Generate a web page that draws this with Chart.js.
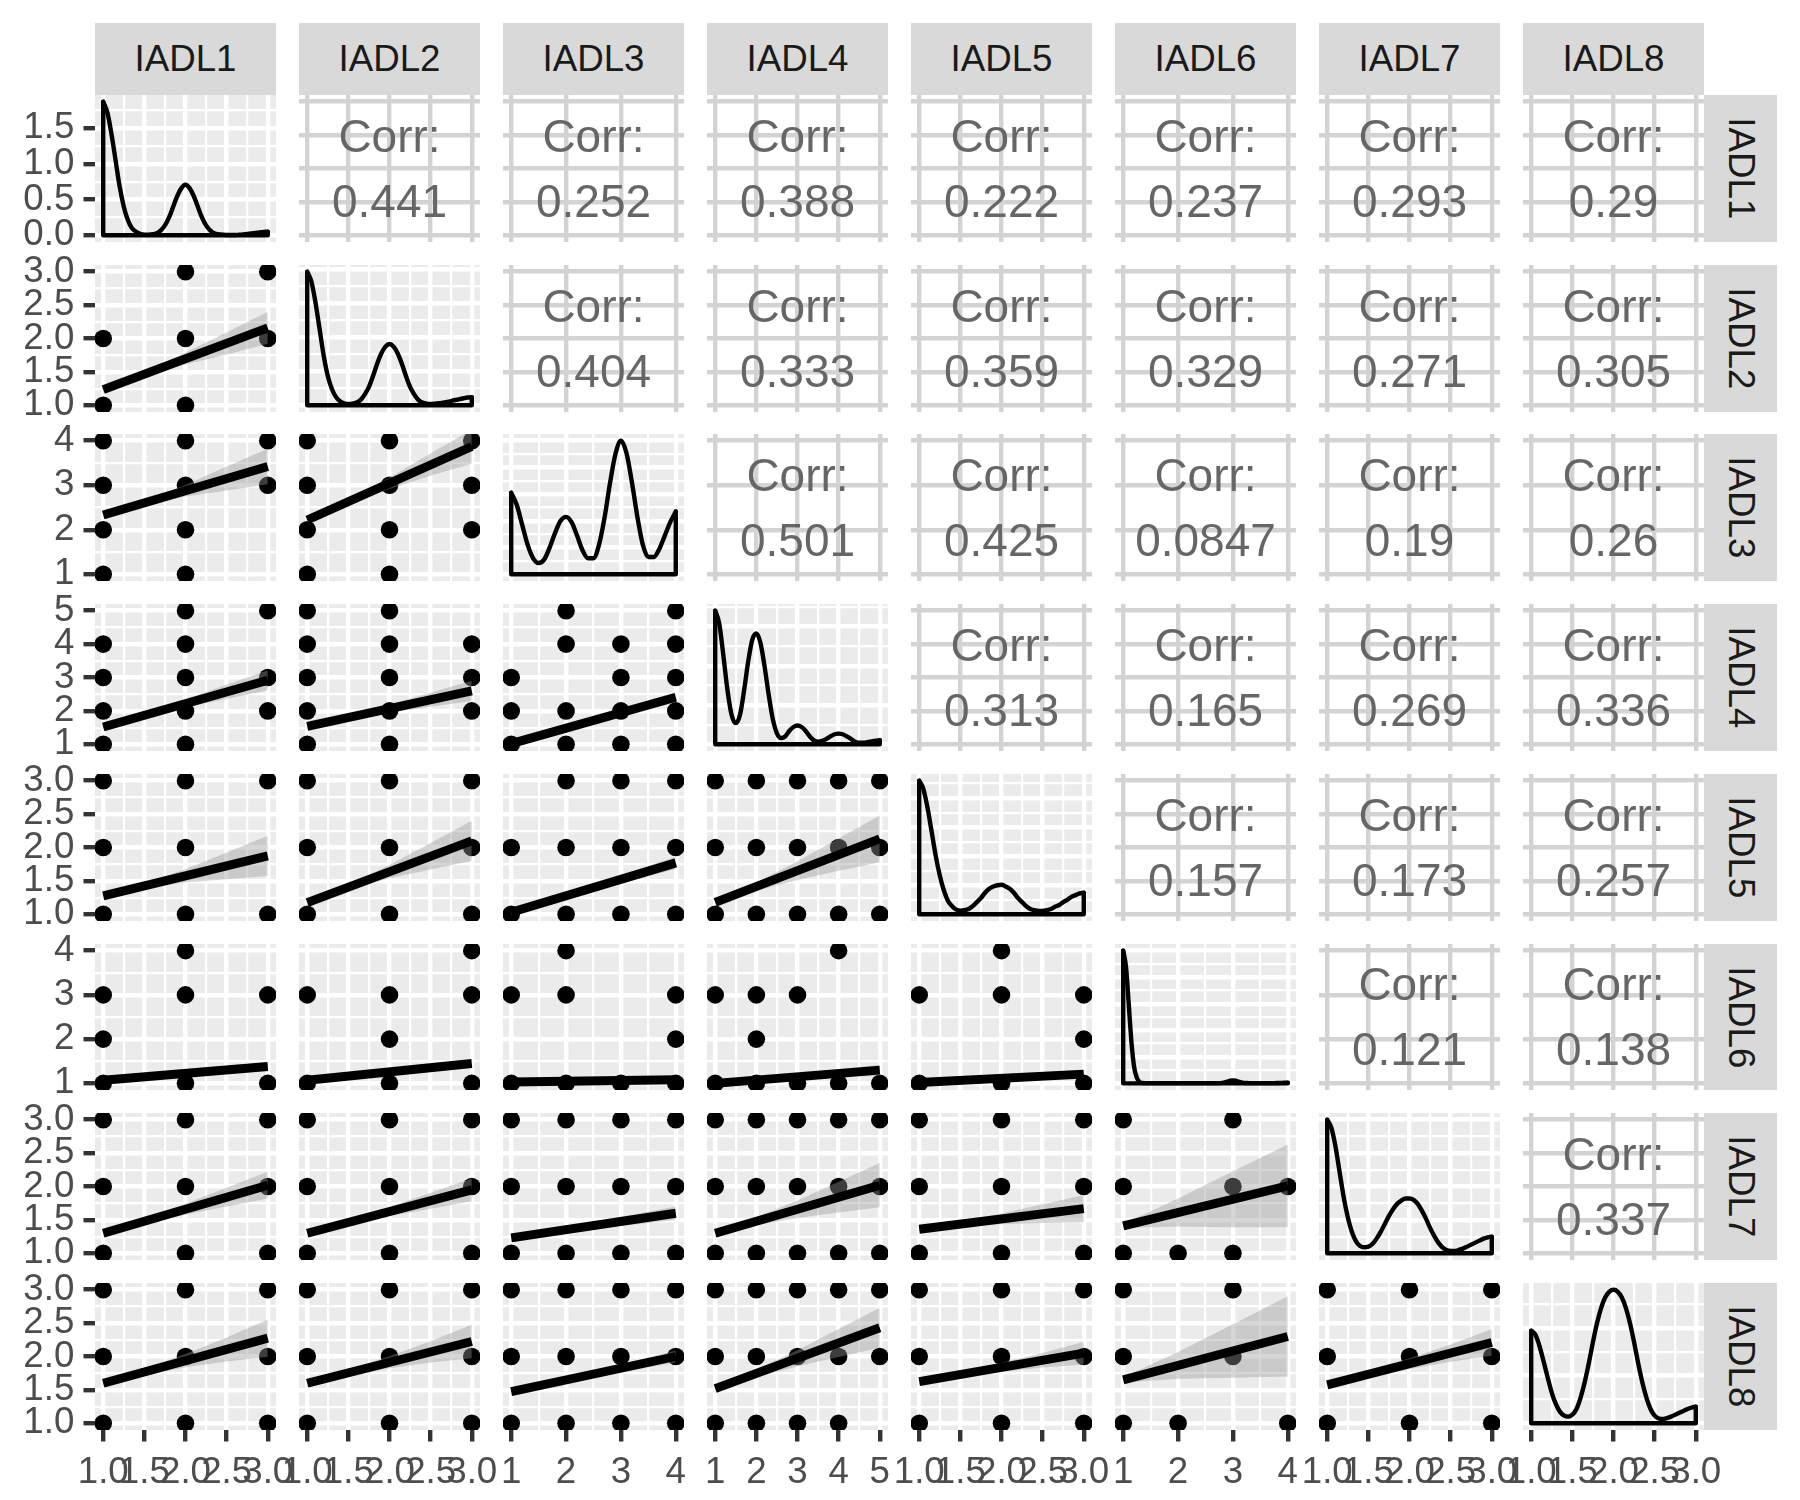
<!DOCTYPE html>
<html>
<head>
<meta charset="utf-8">
<script src="https://cdn.jsdelivr.net/npm/chart.js@4.4.0/dist/chart.umd.min.js"></script>
<style>
html,body{margin:0;padding:0;background:#ffffff;}
#root{position:relative;width:1800px;height:1500px;overflow:hidden;background:#ffffff;font-family:"Liberation Sans",Arial,Helvetica,sans-serif;}
#root canvas{position:absolute;}
.strip{position:absolute;background:#D9D9D9;color:#1A1A1A;font-size:36.7px;display:flex;align-items:center;justify-content:center;line-height:1;}
.strip.right span{display:block;transform:rotate(90deg);white-space:nowrap;}
.corr{position:absolute;display:flex;flex-direction:column;align-items:center;justify-content:center;color:#666666;font-size:46px;line-height:65px;z-index:2;}
.corr div{white-space:nowrap;}
</style>
</head>
<body>
<div id="root"></div>
<script>
// ---------------- data ----------------
const varNames = ["IADL1","IADL2","IADL3","IADL4","IADL5","IADL6","IADL7","IADL8"];
const varMin = [1,1,1,1,1,1,1,1];
const varMax = [3,3,4,5,3,4,3,3];

const ticks13 = [1,1.5,2,2.5,3];
const ticks13Labels = ["1.0","1.5","2.0","2.5","3.0"];
const ticks14 = [1,2,3,4];
const ticks14Labels = ["1","2","3","4"];
const ticks15 = [1,2,3,4,5];
const ticks15Labels = ["1","2","3","4","5"];
const densTicks = [0,0.5,1,1.5];
const densTickLabels = ["0.0","0.5","1.0","1.5"];

// density curves (evaluated from min to max every densStep)
const densStep = [0.05,0.05,0.1,0.1,0.05,0.05,0.05,0.05];
const dens1 = [1.87,1.72,1.42,1.05,0.68,0.40,0.21,0.10,0.05,0.02,0.01,0.01,0.015,0.03,0.07,0.14,0.25,0.40,0.55,0.66,0.71,0.66,0.55,0.40,0.25,0.14,0.07,0.03,0.015,0.01,0.005,0.005,0.005,0.008,0.012,0.018,0.025,0.033,0.04,0.047,0.05];
const dens2 = [1.96,1.82,1.51,1.12,0.73,0.43,0.24,0.12,0.06,0.03,0.02,0.024,0.04,0.08,0.16,0.27,0.43,0.61,0.76,0.86,0.90,0.86,0.76,0.61,0.43,0.27,0.16,0.08,0.04,0.024,0.02,0.024,0.03,0.04,0.05,0.063,0.078,0.092,0.104,0.114,0.118];
const dens3 = [0.61,0.52,0.37,0.22,0.12,0.085,0.11,0.20,0.31,0.40,0.43,0.39,0.29,0.18,0.12,0.12,0.22,0.42,0.68,0.90,1.00,0.91,0.69,0.43,0.22,0.13,0.13,0.19,0.29,0.39,0.47];
const dens4 = [1.70,1.53,1.12,0.68,0.37,0.27,0.37,0.68,1.05,1.33,1.41,1.29,0.99,0.63,0.32,0.14,0.08,0.10,0.17,0.22,0.24,0.22,0.17,0.10,0.05,0.034,0.043,0.068,0.10,0.128,0.136,0.128,0.10,0.068,0.034,0.02,0.02,0.027,0.037,0.046,0.051];
const dens5 = [2.30,2.16,1.84,1.43,1.01,0.67,0.41,0.23,0.14,0.08,0.064,0.07,0.09,0.14,0.21,0.28,0.37,0.44,0.48,0.50,0.51,0.48,0.44,0.37,0.28,0.21,0.14,0.09,0.07,0.058,0.058,0.07,0.09,0.13,0.16,0.21,0.25,0.30,0.33,0.36,0.37];
const dens6 = [5.0,4.4,3.0,1.55,0.6,0.2,0.05,0.015,
  0.01,0.01,0.01,0.01,0.01,0.01,0.01,0.01,0.01,0.01,
  0.01,0.01,0.01,0.01,0.01,0.01,0.01,0.01,0.01,0.01,
  0.01,0.01,0.01,0.01,0.01,0.01,0.01,0.01,
  0.02,0.04,0.07,0.10,0.11,0.10,0.07,0.04,0.02,0.012,
  0.01,0.01,0.01,0.01,0.01,0.01,0.01,0.01,0.01,0.01,
  0.012,0.016,0.02,0.024,0.026];
const dens7 = [2.00,1.88,1.60,1.22,0.84,0.54,0.32,0.18,0.11,0.09,0.10,0.14,0.22,0.32,0.44,0.56,0.66,0.74,0.79,0.82,0.82,0.80,0.74,0.64,0.52,0.38,0.26,0.16,0.09,0.05,0.036,0.036,0.05,0.07,0.10,0.13,0.16,0.19,0.22,0.24,0.25];
const dens8 = [0.97,0.93,0.81,0.65,0.48,0.32,0.20,0.12,0.08,0.07,0.09,0.15,0.27,0.43,0.63,0.85,1.05,1.21,1.32,1.38,1.40,1.38,1.32,1.21,1.05,0.85,0.63,0.43,0.27,0.15,0.08,0.05,0.045,0.055,0.07,0.09,0.11,0.13,0.15,0.165,0.175];

// correlations (upper triangle, row by row)
const corrRow1 = ["0.441","0.252","0.388","0.222","0.237","0.293","0.29"];
const corrRow2 = ["0.404","0.333","0.359","0.329","0.271","0.305"];
const corrRow3 = ["0.501","0.425","0.0847","0.19","0.26"];
const corrRow4 = ["0.313","0.165","0.269","0.336"];
const corrRow5 = ["0.157","0.173","0.257"];
const corrRow6 = ["0.121","0.138"];
const corrRow7 = ["0.337"];

// scatter points, lm fit (y at x-min, y at x-max) and confidence band (lo/hi at bandX)
const bandX3 = [1,1.5,2,2.5,3];
const bandX4 = [1,2,3,4];
const bandX5 = [1,2,3,4,5];

const pts_2_1 = [[1,1],[1,2],[2,1],[2,2],[2,3],[3,2],[3,3]];
const fit_2_1 = [1.235,2.16];
const lo_2_1 = [1.19,1.43,1.61,1.76,1.92];
const hi_2_1 = [1.28,1.50,1.79,2.09,2.40];

const pts_3_1 = [[1,1],[1,2],[1,3],[1,4],[2,1],[2,2],[2,3],[2,4],[3,3],[3,4]];
const fit_3_1 = [2.33,3.42];
const lo_3_1 = [2.27,2.55,2.745,2.88,3.02];
const hi_3_1 = [2.39,2.65,3.005,3.42,3.82];

const pts_3_2 = [[1,1],[1,2],[1,3],[1,4],[2,1],[2,2],[2,3],[2,4],[3,2],[3,3],[3,4]];
const fit_3_2 = [2.22,3.87];
const lo_3_2 = [2.15,2.57,2.915,3.21,3.49];
const hi_3_2 = [2.29,2.69,3.175,3.71,4.25];

const pts_4_1 = [[1,1],[1,2],[1,3],[1,4],[2,1],[2,2],[2,3],[2,4],[2,5],[3,2],[3,3],[3,5]];
const fit_4_1 = [1.52,2.92];
const lo_4_1 = [1.45,1.81,2.10,2.36,2.62];
const hi_4_1 = [1.59,1.93,2.34,2.78,3.22];

const pts_4_2 = [[1,1],[1,2],[1,3],[1,4],[1,5],[2,1],[2,2],[2,3],[2,4],[2,5],[3,2],[3,3],[3,4]];
const fit_4_2 = [1.54,2.6];
const lo_4_2 = [1.47,1.745,1.95,2.125,2.30];
const hi_4_2 = [1.61,1.865,2.19,2.545,2.90];

const pts_4_3 = [[1,1],[1,2],[1,3],[2,1],[2,2],[2,4],[2,5],[3,1],[3,2],[3,3],[3,4],[4,1],[4,2],[4,3],[4,4],[4,5]];
const fit_4_3 = [1.02,2.41];
const lo_4_3 = [0.97,1.433,1.877,2.31];
const hi_4_3 = [1.07,1.533,2.017,2.51];

const pts_5_1 = [[1,1],[1,2],[1,3],[2,1],[2,2],[2,3],[3,1],[3,3]];
const fit_5_1 = [1.275,1.875];
const lo_5_1 = [1.235,1.385,1.475,1.525,1.575];
const hi_5_1 = [1.315,1.465,1.675,1.925,2.175];

const pts_5_2 = [[1,1],[1,2],[1,3],[2,1],[2,2],[2,3],[3,1],[3,2],[3,3]];
const fit_5_2 = [1.175,2.1];
const lo_5_2 = [1.135,1.366,1.538,1.669,1.80];
const hi_5_2 = [1.215,1.446,1.738,2.069,2.40];

const pts_5_3 = [[1,1],[1,2],[2,1],[2,2],[2,3],[3,1],[3,2],[3,3],[4,1],[4,2],[4,3]];
const fit_5_3 = [1.03,1.77];
const lo_5_3 = [0.99,1.237,1.463,1.68];
const hi_5_3 = [1.07,1.317,1.583,1.86];

const pts_5_4 = [[1,1],[1,2],[1,3],[2,1],[2,2],[2,3],[3,1],[3,2],[3,3],[4,1],[4,2],[4,3],[5,1],[5,2],[5,3]];
const fit_5_4 = [1.18,2.13];
const lo_5_4 = [1.14,1.358,1.515,1.653,1.78];
const hi_5_4 = [1.22,1.478,1.795,2.133,2.48];

const pts_6_1 = [[1,1],[1,2],[1,3],[2,1],[2,3],[2,4],[3,1],[3,3]];
const fit_6_1 = [1.07,1.38];
const lo_6_1 = [1.04,1.1175,1.185,1.2425,1.30];
const hi_6_1 = [1.10,1.1775,1.265,1.3625,1.46];

const pts_6_2 = [[1,1],[1,3],[2,1],[2,2],[2,3],[3,1],[3,3],[3,4]];
const fit_6_2 = [1.07,1.45];
const lo_6_2 = [1.04,1.135,1.22,1.295,1.37];
const hi_6_2 = [1.10,1.195,1.30,1.415,1.53];

const pts_6_3 = [[1,1],[1,3],[2,1],[2,3],[2,4],[3,1],[4,1],[4,2],[4,3]];
const fit_6_3 = [1.03,1.08];
const lo_6_3 = [1.0,1.017,1.023,1.03];
const hi_6_3 = [1.06,1.077,1.103,1.13];

const pts_6_4 = [[1,1],[1,3],[2,1],[2,2],[2,3],[3,1],[3,3],[4,1],[4,4],[5,1]];
const fit_6_4 = [1.0,1.3];
const lo_6_4 = [0.97,1.035,1.09,1.135,1.18];
const hi_6_4 = [1.03,1.115,1.21,1.315,1.42];

const pts_6_5 = [[1,1],[1,3],[2,1],[2,3],[2,4],[3,1],[3,2],[3,3]];
const fit_6_5 = [1.02,1.21];
const lo_6_5 = [0.99,1.0375,1.075,1.1125,1.14];
const hi_6_5 = [1.05,1.0975,1.155,1.2125,1.28];

const pts_7_1 = [[1,1],[1,2],[1,3],[2,1],[2,2],[2,3],[3,1],[3,2],[3,3]];
const fit_7_1 = [1.3,2.02];
const lo_7_1 = [1.25,1.44,1.58,1.70,1.82];
const hi_7_1 = [1.35,1.52,1.74,1.98,2.22];

const pts_7_2 = [[1,1],[1,2],[1,3],[2,1],[2,2],[2,3],[3,1],[3,2],[3,3]];
const fit_7_2 = [1.3,1.95];
const lo_7_2 = [1.25,1.4225,1.555,1.6675,1.78];
const hi_7_2 = [1.35,1.5025,1.695,1.9075,2.12];

const pts_7_3 = [[1,1],[1,2],[1,3],[2,1],[2,2],[2,3],[3,1],[3,2],[3,3],[4,1],[4,2],[4,3]];
const fit_7_3 = [1.23,1.6];
const lo_7_3 = [1.18,1.313,1.407,1.5];
const hi_7_3 = [1.28,1.393,1.547,1.7];

const pts_7_4 = [[1,1],[1,2],[1,3],[2,1],[2,2],[2,3],[3,1],[3,2],[3,3],[4,1],[4,2],[4,3],[5,1],[5,2],[5,3]];
const fit_7_4 = [1.3,2.02];
const lo_7_4 = [1.25,1.42,1.53,1.61,1.69];
const hi_7_4 = [1.35,1.54,1.79,2.07,2.35];

const pts_7_5 = [[1,1],[1,2],[1,3],[2,1],[2,2],[2,3],[3,1],[3,2],[3,3]];
const fit_7_5 = [1.36,1.67];
const lo_7_5 = [1.32,1.3975,1.435,1.4525,1.47];
const hi_7_5 = [1.40,1.4775,1.595,1.7325,1.87];

const pts_7_6 = [[1,1],[1,2],[1,3],[2,1],[3,1],[3,2],[3,3],[4,2]];
const fit_7_6 = [1.41,2.01];
const lo_7_6 = [1.38,1.40,1.39,1.39];
const hi_7_6 = [1.44,1.82,2.23,2.63];

const pts_8_1 = [[1,1],[1,2],[1,3],[2,1],[2,2],[2,3],[3,1],[3,2],[3,3]];
const fit_8_1 = [1.6,2.275];
const lo_8_1 = [1.55,1.719,1.8375,1.926,1.995];
const hi_8_1 = [1.65,1.819,2.0375,2.286,2.555];

const pts_8_2 = [[1,1],[1,2],[1,3],[2,1],[2,2],[2,3],[3,1],[3,2],[3,3]];
const fit_8_2 = [1.6,2.225];
const lo_8_2 = [1.55,1.706,1.8225,1.909,1.975];
const hi_8_2 = [1.65,1.806,2.0025,2.229,2.475];

const pts_8_3 = [[1,1],[1,2],[1,3],[2,1],[2,2],[2,3],[3,1],[3,2],[3,3],[4,1],[4,2],[4,3]];
const fit_8_3 = [1.475,2.0];
const lo_8_3 = [1.415,1.60,1.765,1.91];
const hi_8_3 = [1.535,1.70,1.885,2.09];

const pts_8_4 = [[1,1],[1,2],[1,3],[2,1],[2,2],[2,3],[3,1],[3,2],[3,3],[4,1],[4,2],[4,3],[5,2],[5,3]];
const fit_8_4 = [1.52,2.43];
const lo_8_4 = [1.47,1.6875,1.855,1.9925,2.13];
const hi_8_4 = [1.57,1.8075,2.095,2.4125,2.73];

const pts_8_5 = [[1,1],[1,2],[1,3],[2,1],[2,2],[2,3],[3,1],[3,2],[3,3]];
const fit_8_5 = [1.625,2.05];
const lo_8_5 = [1.575,1.681,1.7675,1.834,1.88];
const hi_8_5 = [1.675,1.781,1.9075,2.054,2.22];

const pts_8_6 = [[1,1],[1,2],[1,3],[2,1],[3,2],[3,3],[4,1]];
const fit_8_6 = [1.65,2.3];
const lo_8_6 = [1.61,1.667,1.683,1.70];
const hi_8_6 = [1.69,2.067,2.483,2.90];

const pts_8_7 = [[1,1],[1,2],[1,3],[2,1],[2,2],[2,3],[3,1],[3,2],[3,3]];
const fit_8_7 = [1.575,2.21];
const lo_8_7 = [1.525,1.684,1.8125,1.921,2.01];
const hi_8_7 = [1.625,1.784,1.9725,2.181,2.41];

// ---------------- tables built from the arrays ----------------
const densAll = [dens1,dens2,dens3,dens4,dens5,dens6,dens7,dens8];
const corrRows = [corrRow1,corrRow2,corrRow3,corrRow4,corrRow5,corrRow6,corrRow7];
const bandXByMax = {3: bandX3, 4: bandX4, 5: bandX5};
const lowerData = {
  "2-1":{pts:pts_2_1,fit:fit_2_1,lo:lo_2_1,hi:hi_2_1},
  "3-1":{pts:pts_3_1,fit:fit_3_1,lo:lo_3_1,hi:hi_3_1},
  "3-2":{pts:pts_3_2,fit:fit_3_2,lo:lo_3_2,hi:hi_3_2},
  "4-1":{pts:pts_4_1,fit:fit_4_1,lo:lo_4_1,hi:hi_4_1},
  "4-2":{pts:pts_4_2,fit:fit_4_2,lo:lo_4_2,hi:hi_4_2},
  "4-3":{pts:pts_4_3,fit:fit_4_3,lo:lo_4_3,hi:hi_4_3},
  "5-1":{pts:pts_5_1,fit:fit_5_1,lo:lo_5_1,hi:hi_5_1},
  "5-2":{pts:pts_5_2,fit:fit_5_2,lo:lo_5_2,hi:hi_5_2},
  "5-3":{pts:pts_5_3,fit:fit_5_3,lo:lo_5_3,hi:hi_5_3},
  "5-4":{pts:pts_5_4,fit:fit_5_4,lo:lo_5_4,hi:hi_5_4},
  "6-1":{pts:pts_6_1,fit:fit_6_1,lo:lo_6_1,hi:hi_6_1},
  "6-2":{pts:pts_6_2,fit:fit_6_2,lo:lo_6_2,hi:hi_6_2},
  "6-3":{pts:pts_6_3,fit:fit_6_3,lo:lo_6_3,hi:hi_6_3},
  "6-4":{pts:pts_6_4,fit:fit_6_4,lo:lo_6_4,hi:hi_6_4},
  "6-5":{pts:pts_6_5,fit:fit_6_5,lo:lo_6_5,hi:hi_6_5},
  "7-1":{pts:pts_7_1,fit:fit_7_1,lo:lo_7_1,hi:hi_7_1},
  "7-2":{pts:pts_7_2,fit:fit_7_2,lo:lo_7_2,hi:hi_7_2},
  "7-3":{pts:pts_7_3,fit:fit_7_3,lo:lo_7_3,hi:hi_7_3},
  "7-4":{pts:pts_7_4,fit:fit_7_4,lo:lo_7_4,hi:hi_7_4},
  "7-5":{pts:pts_7_5,fit:fit_7_5,lo:lo_7_5,hi:hi_7_5},
  "7-6":{pts:pts_7_6,fit:fit_7_6,lo:lo_7_6,hi:hi_7_6},
  "8-1":{pts:pts_8_1,fit:fit_8_1,lo:lo_8_1,hi:hi_8_1},
  "8-2":{pts:pts_8_2,fit:fit_8_2,lo:lo_8_2,hi:hi_8_2},
  "8-3":{pts:pts_8_3,fit:fit_8_3,lo:lo_8_3,hi:hi_8_3},
  "8-4":{pts:pts_8_4,fit:fit_8_4,lo:lo_8_4,hi:hi_8_4},
  "8-5":{pts:pts_8_5,fit:fit_8_5,lo:lo_8_5,hi:hi_8_5},
  "8-6":{pts:pts_8_6,fit:fit_8_6,lo:lo_8_6,hi:hi_8_6},
  "8-7":{pts:pts_8_7,fit:fit_8_7,lo:lo_8_7,hi:hi_8_7}
};

// ---------------- layout ----------------
const L0 = 95, PX = 204, PW = 181.1, T0 = 95, PY = 169.7, PH = 146.8;
function cx(c){ return Math.round(L0 + c*PX); }
function cw(c){ return Math.round(L0 + c*PX + PW) - cx(c); }
function ry(r){ return Math.round(T0 + r*PY); }
function rh(r){ return Math.round(T0 + r*PY + PH) - ry(r); }

Chart.defaults.font.family = '"Liberation Sans", Arial, Helvetica, sans-serif';

const bgPlugin = {
  id: 'panelBg',
  beforeDraw(chart, args, opts) {
    if (!opts || !opts.color) return;
    const a = chart.chartArea, ctx = chart.ctx;
    ctx.save(); ctx.fillStyle = opts.color;
    ctx.fillRect(a.left, a.top, a.right - a.left, a.bottom - a.top);
    ctx.restore();
  }
};
Chart.register(bgPlugin);

function varTicks(v){
  const m = varMax[v];
  if (m === 3) return [ticks13, ticks13Labels];
  if (m === 4) return [ticks14, ticks14Labels];
  return [ticks15, ticks15Labels];
}
function varRange(v){ const e = (varMax[v]-varMin[v])*0.05; return [varMin[v]-e, varMax[v]+e]; }
function labelMapOf(vals, labs){ const m = new Map(); vals.forEach((v,i)=>m.set(Number(v).toFixed(4), labs ? labs[i] : '')); return m; }
function tickList(majors, lo, hi, withMinor){
  const out = majors.filter(v => v >= lo-1e-9 && v <= hi+1e-9).map(v => ({value:v, mj:true}));
  if (withMinor && majors.length > 1){
    const st = majors[1]-majors[0];
    for (let i=-1;i<majors.length;i++){ const m = majors[0]+(i+0.5)*st; if (m>lo && m<hi) out.push({value:m, mj:false}); }
  }
  out.sort((a,b)=>a.value-b.value);
  return out;
}
function niceMajors(lo, hi){
  const span = hi-lo; let step = null;
  for (let k=-3;k<=3 && step===null;k++){
    for (const q of [1,2,2.5,5]){ const s = q*Math.pow(10,k); if (span/s <= 6){ step = s; break; } }
  }
  const out = [];
  for (let v = Math.ceil(lo/step)*step; v <= hi+1e-9; v += step) out.push(Math.abs(v) < 1e-9 ? 0 : +v.toFixed(6));
  return out;
}

const LOWER_STYLE = {majorColor:'#FFFFFF', minorColor:'#FFFFFF', majorW:4.4, minorW:2.2};
const UPPER_STYLE = {majorColor:'#D3D3D3', minorColor:'#D3D3D3', majorW:4.4, minorW:2.2};

function axisCfg(axis, lo, hi, ticks, labelMap, showLabels, size, style){
  return {
    type:'linear', position: axis==='x' ? 'bottom' : 'left',
    min:lo, max:hi, bounds:'data', offset:false,
    border:{display:false},
    grid:{
      display:true, drawOnChartArea:true,
      color: ctx => (ctx.tick && ctx.tick.mj) ? style.majorColor : style.minorColor,
      lineWidth: ctx => (ctx.tick && ctx.tick.mj) ? style.majorW : style.minorW,
      drawTicks: showLabels, tickLength:11.5, tickWidth:4.4,
      tickColor: ctx => (ctx.tick && ctx.tick.mj) ? '#333333' : 'rgba(0,0,0,0)'
    },
    ticks:{
      display: showLabels, autoSkip:false, maxRotation:0, minRotation:0,
      padding:9.2, color:'#4D4D4D', font:{size:36.7},
      callback: v => { const k = Number(v).toFixed(4); return labelMap.has(k) ? labelMap.get(k) : ''; }
    },
    afterBuildTicks: s => { s.ticks = ticks.map(t => ({value:t.value, mj:t.mj})); },
    afterFit: s => {
      if (axis==='x') s.height = size; else s.width = size;
      s.paddingLeft = 0; s.paddingRight = 0; s.paddingTop = 0; s.paddingBottom = 0;
    }
  };
}

const root = document.getElementById('root');

for (let r=0;r<8;r++){
  for (let c=0;c<8;c++){
    const kind = r===c ? 'diag' : (r>c ? 'lower' : 'upper');
    const px = cx(c), pw = cw(c), py = ry(r), ph = rh(r);
    const ML = c===0 ? px : (r===7 ? 40 : 0);
    const MR = r===7 ? 40 : 0;
    const MT = c===0 ? 18 : 0;
    const MB = r===7 ? 76 : (c===0 ? 18 : 0);
    const W = pw+ML+MR, H = ph+MT+MB;
    const cv = document.createElement('canvas');
    cv.width = W; cv.height = H;
    cv.style.left = (px-ML)+'px'; cv.style.top = (py-MT)+'px';
    cv.style.width = W+'px'; cv.style.height = H+'px';
    root.appendChild(cv);

    const style = kind==='upper' ? UPPER_STYLE : LOWER_STYLE;
    const [xlo,xhi] = varRange(c);
    const [xt,xl] = varTicks(c);
    const xTicks = tickList(xt, xlo, xhi, kind!=='upper');
    const xMap = labelMapOf(xt, xl);

    let ylo, yhi, yTicks, yMap;
    const datasets = [];
    if (kind==='diag'){
      const d = densAll[r];
      const dmax = Math.max(...d);
      ylo = -0.05*dmax; yhi = 1.05*dmax;
      const maj = r===0 ? densTicks : niceMajors(ylo, yhi);
      yTicks = tickList(maj, ylo, yhi, true);
      yMap = r===0 ? labelMapOf(densTicks, densTickLabels) : labelMapOf(maj, null);
      const x0 = varMin[r], x1 = varMax[r];
      datasets.push({
        type:'line', data: d.map((y,i)=>({x: x0 + i*densStep[r], y})),
        borderColor:'#000000', borderWidth:4.4, pointRadius:0, fill:false,
        cubicInterpolationMode:'monotone', borderCapStyle:'round', borderJoinStyle:'round', clip:false, order:1
      });
      datasets.push({
        type:'line', data:[{x:x0,y:d[0]},{x:x0,y:0},{x:x1,y:0},{x:x1,y:d[d.length-1]}],
        borderColor:'#000000', borderWidth:4.4, pointRadius:0, fill:false, tension:0,
        borderCapStyle:'round', borderJoinStyle:'round', clip:false, order:1
      });
    } else {
      [ylo,yhi] = varRange(r);
      const [yt,yl] = varTicks(r);
      yTicks = tickList(yt, ylo, yhi, kind!=='upper');
      yMap = labelMapOf(yt, yl);
      if (kind==='lower'){
        const ld = lowerData[(r+1)+'-'+(c+1)];
        const bx = bandXByMax[varMax[c]];
        datasets.push({
          type:'scatter', data: ld.pts.map(p=>({x:p[0], y:p[1]})),
          pointRadius:8.8, pointHoverRadius:8.8, pointBackgroundColor:'#000000', pointBorderWidth:0,
          showLine:false, clip:0, order:3
        });
        datasets.push({
          type:'line', data: bx.map((x,i)=>({x, y:ld.lo[i]})),
          borderColor:'rgba(0,0,0,0)', borderWidth:0, pointRadius:0, fill:false, tension:0, clip:0, order:2
        });
        datasets.push({
          type:'line', data: bx.map((x,i)=>({x, y:ld.hi[i]})),
          borderColor:'rgba(0,0,0,0)', borderWidth:0, pointRadius:0, fill:'-1',
          backgroundColor:'rgba(153,153,153,0.4)', tension:0, clip:0, order:2
        });
        datasets.push({
          type:'line', data:[{x:varMin[c], y:ld.fit[0]},{x:varMax[c], y:ld.fit[1]}],
          borderColor:'#000000', borderWidth:8.9, pointRadius:0, fill:false, tension:0,
          borderCapStyle:'butt', clip:0, order:1
        });
      }
    }

    new Chart(cv, {
      type:'line',
      data:{datasets},
      options:{
        responsive:false, maintainAspectRatio:false, animation:false, devicePixelRatio:1, events:[],
        layout:{autoPadding:false, padding:{left: c===0 ? 0 : ML, right: MR, top: MT, bottom: r===7 ? 0 : MB}},
        plugins:{legend:{display:false}, tooltip:{enabled:false}, panelBg:{color: kind==='upper' ? null : '#EBEBEB'}},
        scales:{
          x: axisCfg('x', xlo, xhi, xTicks, xMap, r===7, r===7 ? 76 : 0, style),
          y: axisCfg('y', ylo, yhi, yTicks, yMap, c===0, c===0 ? ML : 0, style)
        }
      }
    });
  }
}

// strips
for (let c=0;c<8;c++){
  const s = document.createElement('div');
  s.className = 'strip';
  s.style.left = cx(c)+'px'; s.style.top = '23px';
  s.style.width = cw(c)+'px'; s.style.height = (ry(0)-23)+'px';
  s.textContent = varNames[c];
  root.appendChild(s);
}
const rsLeft = cx(7)+cw(7);
for (let r=0;r<8;r++){
  const s = document.createElement('div');
  s.className = 'strip right';
  s.style.left = rsLeft+'px'; s.style.top = ry(r)+'px';
  s.style.width = (1777-rsLeft)+'px'; s.style.height = rh(r)+'px';
  const sp = document.createElement('span'); sp.textContent = varNames[r];
  s.appendChild(sp);
  root.appendChild(s);
}
// correlation texts
for (let r=0;r<7;r++){
  for (let c=r+1;c<8;c++){
    const d = document.createElement('div');
    d.className = 'corr';
    d.style.left = cx(c)+'px'; d.style.top = ry(r)+'px';
    d.style.width = cw(c)+'px'; d.style.height = rh(r)+'px';
    const a = document.createElement('div'); a.textContent = 'Corr:';
    const b = document.createElement('div'); b.textContent = corrRows[r][c-r-1];
    d.appendChild(a); d.appendChild(b);
    root.appendChild(d);
  }
}
</script>
</body>
</html>
